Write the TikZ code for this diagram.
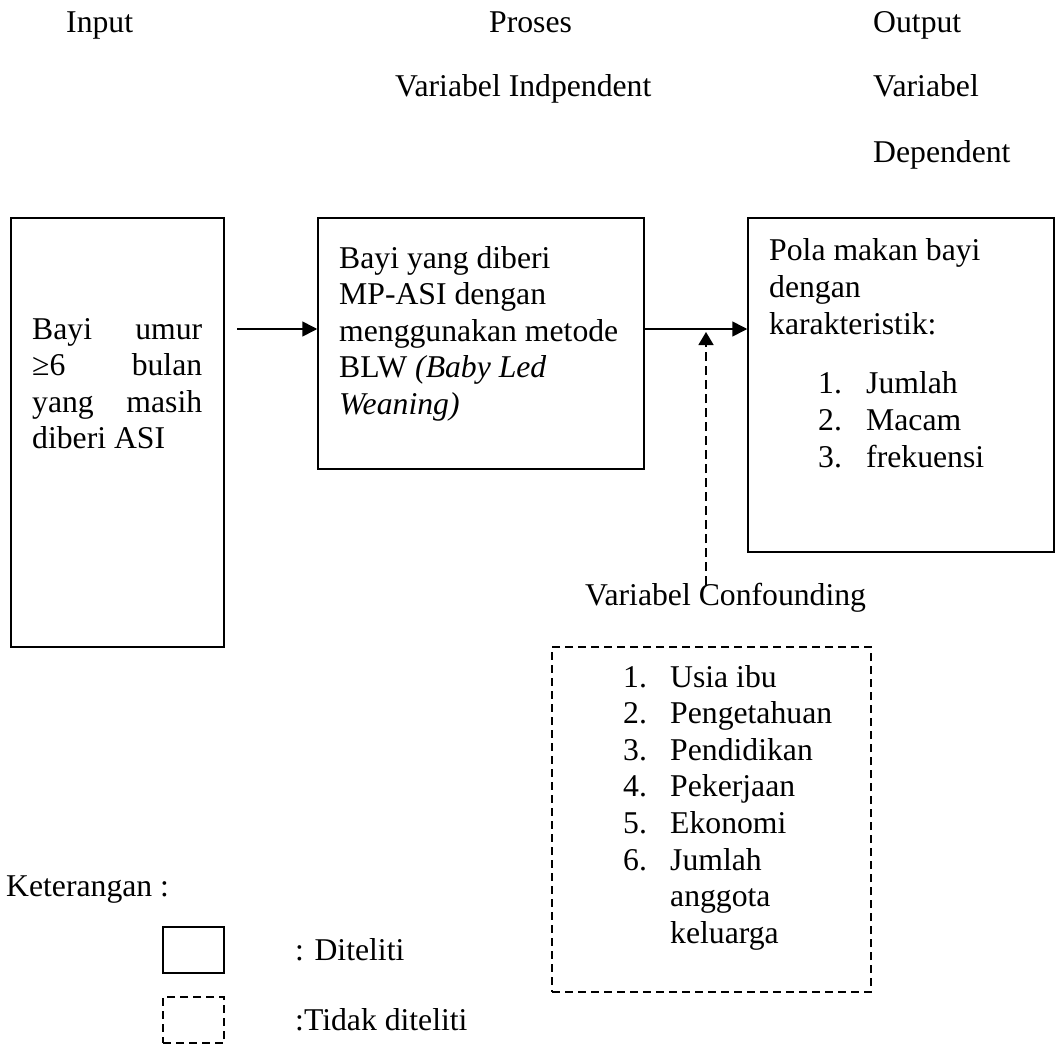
\documentclass[tikz,border=0pt]{standalone}
\usepackage{fontspec}
\setmainfont{Liberation Serif}
\usetikzlibrary{arrows.meta}
\begin{document}
\begin{tikzpicture}[x=1pt,y=-1pt,
  txt/.style={font=\fontsize{31.7}{36.6}\selectfont, inner sep=0, anchor=base west},
  txtb/.style={font=\fontsize{31.7}{37.2}\selectfont, inner sep=0, anchor=base west},
  solidbox/.style={draw, line width=1.5pt, inner sep=0},
  dashbox/.style={draw, line width=1.5pt, inner sep=0, dash pattern=on 8pt off 5pt},
  arr/.style={line width=1.6pt, -{Triangle[length=15pt,width=15pt]}},
  dasharr/.style={line width=1.6pt, dash pattern=on 9pt off 5pt, -{Triangle[length=13pt,width=15pt]}}
]
\useasboundingbox (0,0) rectangle (1056,1046);

% headings
\node[txt] (hin) at (66,33) {Input};
\node[txt] (hpr) at (489,33) {Proses};
\node[txt] (hout) at (873,33) {Output};
\node[txt] (hvi) at (395,97) {Variabel Indpendent};
\node[txt] (hvd1) at (873,97) {Variabel};
\node[txt] (hvd2) at (873,162) {Dependent};

% boxes
\node[solidbox, minimum width=213pt, minimum height=429pt] (box1) at (117.5,432.5) {};
\node[solidbox, minimum width=326pt, minimum height=251pt] (box2) at (481,343.5) {};
\node[solidbox, minimum width=306pt, minimum height=334pt] (box3) at (901,385) {};
\node[dashbox, minimum width=319pt, minimum height=345pt] (box4) at (711.5,819.5) {};

% box 1 text
\node[txt] (t1) at (32,339) {\parbox[t]{170pt}{\makebox[170pt][s]{Bayi umur}\\\makebox[170pt][s]{≥6 bulan}\\\makebox[170pt][s]{yang masih}\\diberi ASI}};

% box 2 text
\node[txt] (t2) at (339,268) {\parbox[t]{300pt}{Bayi yang diberi\\MP-ASI dengan\\menggunakan metode\\BLW \textit{(Baby Led}\\\textit{Weaning)}}};

% box 3 text
\node[txtb] (t3) at (769,260) {\parbox[t]{280pt}{Pola makan bayi\\dengan\\karakteristik:}};
\node[txtb] (t3n) at (818,393) {\parbox[t]{40pt}{1.\\2.\\3.}};
\node[txtb] (t3i) at (866,393) {\parbox[t]{180pt}{Jumlah\\Macam\\frekuensi}};

% confounding
\node[txt] (cf) at (585,605) {Variabel Confounding};
\node[txt] (t4n) at (623,687) {\parbox[t]{40pt}{1.\\2.\\3.\\4.\\5.\\6.}};
\node[txt] (t4i) at (670,687) {\parbox[t]{190pt}{Usia ibu\\Pengetahuan\\Pendidikan\\Pekerjaan\\Ekonomi\\Jumlah\\anggota\\keluarga}};

% arrows
\coordinate (a1) at (237,329);
\draw[arr] (a1) -- (a1 -| box2.west);
\coordinate (j) at (706,329);
\draw[arr] (j -| box2.east) -- (j -| box3.west);
\coordinate (jt) at (706,332);
\coordinate (cfb) at (706,585);
\draw[dasharr] (cfb) -- (jt);

% legend
\node[txt] (ket) at (6,896) {Keterangan :};
\node[solidbox, minimum width=61pt, minimum height=46pt] (lg1) at (193.5,950) {};
\node[dashbox, minimum width=61pt, minimum height=46pt] (lg2) at (193.5,1020) {};
\node[txt] (lt1) at (295,960) {: Diteliti};
\node[txt] (lt2) at (295,1030) {:Tidak diteliti};
\end{tikzpicture}
\end{document}
